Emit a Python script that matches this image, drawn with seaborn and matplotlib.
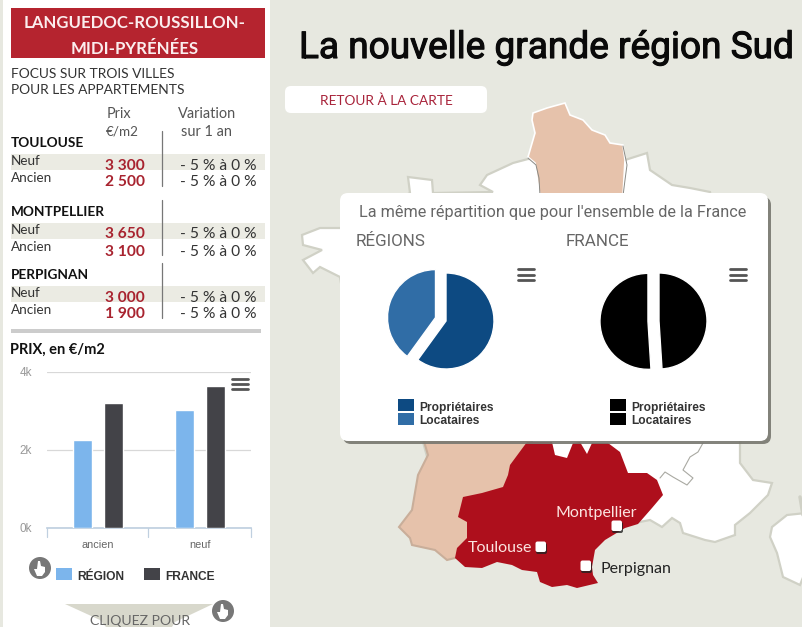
import pandas as pd
import matplotlib
matplotlib.use('Agg')
import matplotlib.pyplot as plt
import matplotlib.patheffects as pe
import seaborn as sns
from matplotlib.patches import Circle, FancyBboxPatch, Polygon, Rectangle

# page colours
BG = '#e7e8e0'
RED = '#ae0f1c'
HEAD = '#b5242f'
PEACH = '#e6c2ab'
NARROW = ['Roboto', 'DejaVu Sans']
BODY = ['Lato', 'DejaVu Sans']
ARIAL = ['Liberation Sans', 'DejaVu Sans']

# bar chart
types = ['ancien', 'neuf']
region_prices = [2250, 3030]
france_prices = [3200, 3650]
y_ticks = [0, 2000, 4000]
y_labels = ['0k', '2k', '4k']

# pies
pie_labels = ['Propriétaires', 'Locataires']
region_share = [60, 40]
france_share = [49, 51]

# table
cities = ['TOULOUSE', 'MONTPELLIER', 'PERPIGNAN']
neuf_prices = ['3 300', '3 650', '3 000']
ancien_prices = ['2 500', '3 100', '1 900']
variation = '- 5 % à 0 %'

# map outlines, page pixels
france_shape = [(340,228),(320,228),(302,235),(303,245),(322,250),(303,260),(313,273),(320,267),(340,277),
                (360,400),(423,442),(455,558),(650,520),(662,527),(672,518),(680,523),(683,533),(705,540),
                (715,542),(735,535),(735,525),(750,513),(768,495),(772,483),(753,480),(740,463),(740,443),
                (745,430),(710,192),(690,188),(672,185),(650,170),(647,153),(625,160),(528,159),(513,163),
                (487,175),(480,185),(493,192),(433,193),(432,180),(408,177),(410,193)]
north_shape = [(533,113),(547,108),(565,103),(570,115),(583,120),(592,130),(605,135),(610,143),(623,145),
               (625,160),(623,196),(540,196),(537,177),(535,163),(528,157),(535,133),(532,120)]
west_shape = [(423,438),(530,438),(560,500),(455,558),(447,560),(435,550),(412,545),(410,538),(399,527),
              (412,510),(418,475),(428,455)]
south_shape = [(527,442),(552,442),(555,455),(567,458),(573,443),(580,442),(587,454),(592,443),(608,443),
               (620,452),(628,473),(647,473),(657,480),(663,495),(652,508),(638,524),(625,528),(605,540),
               (595,550),(592,567),(593,575),(598,583),(577,588),(567,585),(552,587),(540,582),(537,572),
               (522,570),(512,565),(497,562),(482,568),(465,567),(455,558),(457,548),(467,538),(467,522),
               (458,517),(463,497),(482,493),(503,487),(508,475),(510,465)]
corsica_shape = [(806,513),(787,515),(772,527),(770,537),(777,553),(783,577),(800,585),(806,570)]
alps_line = [(703,443),(698,452),(690,457),(683,470),(693,478),(687,485),(673,477),(665,472),(660,478)]

sns.set_theme(style='white')
plt.rcParams['font.family'] = BODY

fig = plt.figure(figsize=(8.03, 6.27), dpi=100, facecolor=BG)
W, H = 803, 627

# whole page axes in pixels
page = fig.add_axes([0, 0, 1, 1], zorder=0)
page.set_xlim(0, W)
page.set_ylim(H, 0)
page.axis('off')


def box_axes(x0, y0, x1, y1):
    """axes placed with page pixels"""
    return fig.add_axes([x0 / W, 1 - y1 / H, (x1 - x0) / W, (y1 - y0) / H], zorder=2)


def put(x, y, s, size, color='#333333', family=BODY, weight='normal', ha='left', zorder=10):
    return page.text(x, y, s, fontsize=size * 0.72, color=color, family=family, weight=weight,
                     ha=ha, va='center_baseline', zorder=zorder)


def rect(x0, y0, x1, y1, color, zorder=3):
    page.add_patch(Rectangle((x0, y0), x1 - x0, y1 - y0, fc=color, ec='none', zorder=zorder))


def rounded(x0, y0, x1, y1, r, color, zorder=3, alpha=1):
    page.add_patch(FancyBboxPatch((x0, y0), x1 - x0, y1 - y0, boxstyle=f'round,pad=0,rounding_size={r}',
                                  fc=color, ec='none', zorder=zorder, alpha=alpha))


def burger(x0, x1, ys):
    for y in ys:
        page.plot([x0, x1], [y, y], color='#555555', lw=2, solid_capstyle='round', zorder=8)


def hand(cx, cy):
    page.add_patch(Circle((cx, cy), 11, fc='#777777', ec='none', zorder=6))
    page.add_patch(Polygon([(cx - 2, cy - 7), (cx, cy - 7), (cx + 1, cy - 2), (cx + 5, cy - 1), (cx + 5, cy + 4),
                            (cx + 2, cy + 8), (cx - 3, cy + 8), (cx - 6, cy + 1), (cx - 3, cy + 1)],
                           fc='white', ec='none', zorder=7))


# map
page.add_patch(Polygon(france_shape, fc='white', ec='#d0d1c6', lw=1.6, zorder=1))
page.add_patch(Polygon(corsica_shape, fc='white', ec='#d0d1c6', lw=1.6, zorder=1))
page.plot([800, 803], [497, 515], color='#d0d1c6', lw=2.5, zorder=1)
page.plot(*zip(*alps_line), color='#a9a9a2', lw=0.8, zorder=1)
page.add_patch(Polygon(north_shape, fc=PEACH, ec='white', lw=1.2, zorder=1.5))
page.plot([623, 627, 625, 623], [146, 165, 180, 196], color='#8a8a85', lw=0.7, zorder=1.6)
page.plot([528, 536, 539, 540], [158, 165, 178, 196], color='#8a8a85', lw=0.7, zorder=1.6)
page.add_patch(Polygon(west_shape, fc=PEACH, ec='#c9ae9a', lw=1.5, zorder=1.5))
page.add_patch(Polygon(south_shape, fc=RED, ec='none', zorder=1.8))

for cx, cy in [(541, 547), (617, 526), (586, 566)]:
    rounded(cx - 5, cy - 4, cx + 6, cy + 7, 2, '#222222', zorder=2, alpha=0.8)
    rounded(cx - 5.5, cy - 5.5, cx + 5, cy + 5, 2, 'white', zorder=2.1)
put(468, 547, 'Toulouse', 16, color='#fbe4e0')
put(556, 512, 'Montpellier', 16, color='#fbe4e0')
put(601, 568, 'Perpignan', 16, color='#222222')

# title and button
title = put(299, 44, 'La nouvelle grande région Sud', 37, color='#0a0a0a', family=NARROW)
title.set_path_effects([pe.withStroke(linewidth=0.8, foreground='#0a0a0a')])
rounded(285, 86, 487, 113, 6, 'white')
put(386, 100, 'RETOUR À LA CARTE', 13.6, color='#a8233a', ha='center')

# left panel
rect(3, 0, 270, H, 'white', zorder=2.5)
rect(11, 8, 265, 58, HEAD)
put(135, 22, 'LANGUEDOC-ROUSSILLON-', 16.8, color='#fbeeee', weight='bold', ha='center')
put(135, 48, 'MIDI-PYRÉNÉES', 16.8, color='#fbeeee', weight='bold', ha='center')
put(11, 73, 'FOCUS SUR TROIS VILLES', 13.8)
put(11, 89, 'POUR LES APPARTEMENTS', 13.8)
put(107, 113, 'Prix', 14.5, color='#555555')
put(106, 130, '€/m2', 13.5, color='#555555')
put(178, 113, 'Variation', 14.5, color='#555555')
put(181, 130, 'sur 1 an', 14.5, color='#555555')

name_rows = [142, 211, 274]
for i, city in enumerate(cities):
    y = name_rows[i]
    rect(11, y + 12, 265, y + 28, '#ebebe3')
    page.plot([162.5, 162.5], [y - 11 if i else 131, y + 44], color='#777777', lw=0.9, zorder=4)
    put(11, y, city, 13.6, color='#111111', weight='bold')
    put(11, y + 18, 'Neuf', 13.5)
    put(11, y + 35, 'Ancien', 13.5)
    put(145, y + 22, neuf_prices[i], 15.5, color='#a8232f', weight='bold', ha='right')
    put(145, y + 39, ancien_prices[i], 15.5, color='#a8232f', weight='bold', ha='right')
    put(180, y + 22, variation, 15.5)
    put(180, y + 39, variation, 15.5)

rect(11, 329, 261, 333, '#cccccc')
put(10, 348, 'PRIX, en €/m2', 14.6, color='#111111', weight='bold')

# bar chart
df = pd.DataFrame({
    'type': types * 2,
    'prix': region_prices + france_prices,
    'zone': ['RÉGION'] * 2 + ['FRANCE'] * 2,
})
ax = box_axes(47, 372, 251, 528)
sns.barplot(data=df, x='type', y='prix', hue='zone', palette=['#7cb5ec', '#434348'],
            width=0.59, gap=0.37, saturation=1, legend=False, ax=ax, zorder=3)
ax.patch.set_alpha(0)
ax.set_xlim(-0.5, 1.5)
ax.set_ylim(0, 4000)
ax.set_yticks(y_ticks)
ax.set_yticklabels(y_labels)
ax.set_xlabel('')
ax.set_ylabel('')
ax.tick_params(axis='y', length=0, pad=11, labelsize=8.5, labelcolor='#999999')
ax.tick_params(axis='x', length=0, pad=9, labelsize=7.8, labelcolor='#666666')
for lab in ax.get_xticklabels() + ax.get_yticklabels():
    lab.set_family(ARIAL)
ax.grid(axis='y', color='#d8d8d8', lw=0.9)
ax.set_axisbelow(True)
sns.despine(ax=ax, left=True, top=True, right=True)
ax.spines['bottom'].set_color('#c0d0e0')
for x in [47, 148, 251]:
    page.plot([x, x], [528, 537], color='#c0d0e0', lw=0.9, zorder=4)
burger(232, 248, [379, 384, 389])
ax.set_zorder(3)

rect(56, 568, 72, 580, '#7cb5ec')
put(77, 575, 'RÉGION', 12, color='#333333', family=ARIAL, weight='bold')
rect(144, 568, 160, 580, '#434348')
put(165, 575, 'FRANCE', 12, color='#333333', family=ARIAL, weight='bold')
hand(40, 568)
page.add_patch(Polygon([(65, 604), (213, 604), (175, 622), (172, 627), (106, 627), (100, 620)],
                       fc='#d8d8cc', ec='none', zorder=4))
put(140, 620, 'CLIQUEZ POUR', 14, color='#666666', ha='center', zorder=5)
hand(223, 611)

# card with the two pies
rounded(343, 197, 771, 444, 8, '#77776f', zorder=3.5, alpha=0.9)
rounded(340, 193, 768, 441, 8, 'white', zorder=3.6)
put(553, 211, "La même répartition que pour l'ensemble de la France", 16.3, color='#666666',
    family=NARROW, ha='center')
put(356, 240, 'RÉGIONS', 17, color='#666666', family=NARROW)
put(566, 240, 'FRANCE', 17, color='#666666', family=NARROW)
burger(518, 534, [269, 275, 280])
burger(730, 746, [269, 275, 280])

for cx, share, colors, lx in [(446, region_share, ['#0d4a82', '#306da6'], 398),
                              (659, france_share, ['#000000', '#000000'], 610)]:
    pie_ax = box_axes(cx - 65, 321 - 65, cx + 65, 321 + 65)
    pie_ax.pie(share, colors=colors, startangle=90, counterclock=False, radius=1,
               explode=[0, 0.23], center=(0, 0))
    pie_ax.set_xlim(-65 / 48, 65 / 48)
    pie_ax.set_ylim(-65 / 48, 65 / 48)
    pie_ax.set_aspect('equal')
    pie_ax.axis('off')
    for j, name in enumerate(pie_labels):
        rect(lx, 399 + 14 * j, lx + 16, 411 + 14 * j, colors[j], zorder=5)
        put(lx + 21, 406 + 14 * j, name, 12, color='#333333', family=ARIAL, weight='bold')

fig.savefig('out.png', dpi=100, facecolor=BG)
